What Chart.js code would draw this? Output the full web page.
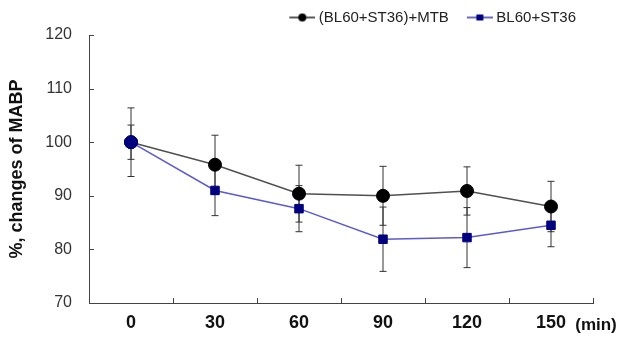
<!DOCTYPE html>
<html>
<head>
<meta charset="utf-8">
<script src="https://cdn.jsdelivr.net/npm/chart.js@4"></script>
<style>
  html, body { margin: 0; padding: 0; background: #fff; }
  #wrap { width: 622px; height: 339px; }
</style>
</head>
<body>
<div id="wrap"><canvas id="mabpChart" width="622" height="339"></canvas></div>
<script>
// time points (min)
const timeLabels = ['0', '30', '60', '90', '120', '150'];

// (BL60+ST36)+MTB
const mtbMean = [100, 95.8, 90.4, 90.0, 90.9, 88.0];
const mtbErr = [6.4, 5.5, 5.3, 5.5, 4.5, 4.7];

// BL60+ST36
const stMean = [100, 91.0, 87.6, 81.9, 82.2, 84.5];
const stErr = [3.2, 4.7, 4.3, 6.0, 5.6, 4.0];

const yTicks = [70, 80, 90, 100, 110, 120];

const FONT = "'Liberation Sans', Arial, sans-serif";
const errs = [mtbErr, stErr];

// little line+marker icon for the legend
function legendIcon(color, lineColor, style) {
    const c = document.createElement('canvas');
    c.width = 40; c.height = 12;
    const g = c.getContext('2d');
    g.strokeStyle = lineColor;
    g.lineWidth = 1.5;
    g.beginPath();
    g.moveTo(14, 6); g.lineTo(40, 6);
    g.stroke();
    g.fillStyle = color;
    if (style === 'circle') {
        g.beginPath(); g.arc(27, 6, 4, 0, Math.PI * 2); g.fill();
    } else {
        g.fillRect(23.5, 3, 7, 6);
    }
    return c;
}

const errorBars = {
    id: 'errorBars',
    beforeDatasetsDraw(chart) {
        const ctx = chart.ctx;
        const x = chart.scales.x, y = chart.scales.y;
        ctx.save();
        ctx.strokeStyle = '#333';
        ctx.lineWidth = 1;
        chart.data.datasets.forEach((ds, di) => {
            ds.data.forEach((v, i) => {
                const px = x.getPixelForValue(i);
                const top = y.getPixelForValue(v + errs[di][i]);
                const bot = y.getPixelForValue(v - errs[di][i]);
                ctx.beginPath();
                ctx.moveTo(px, top); ctx.lineTo(px, bot);
                ctx.moveTo(px - 3.5, top); ctx.lineTo(px + 3.5, top);
                ctx.moveTo(px - 3.5, bot); ctx.lineTo(px + 3.5, bot);
                ctx.stroke();
            });
        });
        ctx.restore();
    }
};

// nudge the legend a bit left of the plot's right edge
const legendShift = {
    id: 'legendShift',
    afterLayout(chart) {
        if (chart.legend) {
            chart.legend.left -= 9;
            chart.legend.right -= 9;
        }
    }
};

// inward tick marks and the "(min)" unit
const axisExtras = {
    id: 'axisExtras',
    afterDraw(chart) {
        const ctx = chart.ctx;
        const x = chart.scales.x, y = chart.scales.y;
        const area = chart.chartArea;
        ctx.save();
        ctx.strokeStyle = '#444';
        ctx.lineWidth = 1;
        ctx.beginPath();
        yTicks.forEach(t => {
            const py = Math.round(y.getPixelForValue(t)) + 0.5;
            ctx.moveTo(area.left, py); ctx.lineTo(area.left + 5, py);
        });
        const half = (x.getPixelForValue(1) - x.getPixelForValue(0)) / 2;
        for (let i = 0; i <= timeLabels.length; i++) {
            const px = Math.round(x.getPixelForValue(0) - half + i * 2 * half) + 0.5;
            ctx.moveTo(px, area.bottom); ctx.lineTo(px, area.bottom - 5);
        }
        ctx.stroke();
        ctx.fillStyle = '#111';
        ctx.font = 'bold 17px ' + FONT;
        ctx.textAlign = 'center';
        ctx.textBaseline = 'middle';
        ctx.fillText('(min)', area.right + 3, 325);
        ctx.restore();
    }
};

const ctx = document.getElementById('mabpChart').getContext('2d');
const mabpChart = new Chart(ctx, {
    type: 'line',
    data: {
        labels: timeLabels,
        datasets: [{
            label: '(BL60+ST36)+MTB',
            data: mtbMean,
            borderColor: '#505050',
            borderWidth: 1.5,
            pointStyle: 'circle',
            pointRadius: 6.5,
            pointBackgroundColor: '#000',
            pointBorderColor: '#000',
            pointBorderWidth: 1,
            order: 1
        }, {
            label: 'BL60+ST36',
            data: stMean,
            borderColor: '#5a5ad2',
            borderWidth: 1.5,
            pointStyle: ['circle', 'rect', 'rect', 'rect', 'rect', 'rect'],
            pointRadius: [6.5, 6, 6, 6, 6, 6],
            pointBackgroundColor: '#00007f',
            pointBorderColor: '#00007f',
            pointBorderWidth: 1,
            order: 0
        }]
    },
    options: {
        responsive: false,
        animation: false,
        events: [],
        layout: { padding: { top: 2, right: 29, bottom: 0, left: 0 } },
        plugins: {
            tooltip: { enabled: false },
            legend: {
                position: 'top',
                align: 'end',
                labels: {
                    usePointStyle: true,
                    pointStyleWidth: 32,
                    boxHeight: 12,
                    padding: 8,
                    color: '#222',
                    font: { family: FONT, size: 15 },
                    generateLabels(chart) {
                        return [
                            { text: '(BL60+ST36)+MTB', datasetIndex: 0, pointStyle: legendIcon('#000', '#222', 'circle'), lineWidth: 0, fontColor: '#222', hidden: false },
                            { text: 'BL60+ST36', datasetIndex: 1, pointStyle: legendIcon('#00007f', '#3a3ab0', 'rect'), lineWidth: 0, fontColor: '#222', hidden: false }
                        ];
                    }
                }
            }
        },
        scales: {
            x: {
                offset: true,
                grid: { display: false, drawTicks: false },
                border: { display: true, color: '#444', width: 1 },
                ticks: {
                    color: '#111',
                    padding: 9,
                    font: { family: FONT, size: 18, weight: 'bold' }
                },
                afterFit(scale) { scale.height = 36; }
            },
            y: {
                min: 70,
                max: 120,
                grid: { display: false, drawTicks: false },
                border: { display: true, color: '#444', width: 1 },
                afterBuildTicks(scale) { scale.ticks = yTicks.map(v => ({ value: v })); },
                ticks: {
                    color: '#333',
                    padding: 17,
                    font: { family: FONT, size: 16 }
                },
                title: {
                    display: true,
                    text: '%, changes of MABP',
                    color: '#111',
                    padding: { top: 6, bottom: 0 },
                    font: { family: FONT, size: 18, weight: 'bold' }
                },
                afterFit(scale) { scale.width = 89; }
            }
        }
    },
    plugins: [errorBars, legendShift, axisExtras]
});
</script>
</body>
</html>
